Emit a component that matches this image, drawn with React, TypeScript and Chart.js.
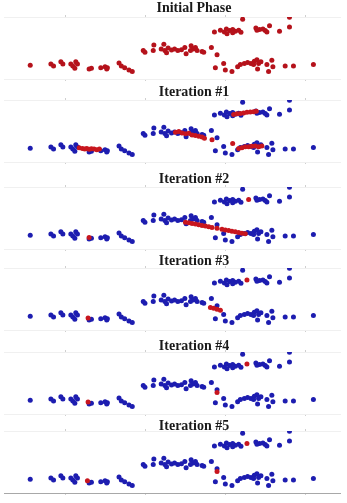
import React, { useEffect, useRef } from 'react';
import { Chart, registerables } from 'chart.js';

Chart.register(...registerables);

type Pt = [number, number];

// ---------- data ----------
const panelTitles = ['Initial Phase', 'Iteration #1', 'Iteration #2', 'Iteration #3', 'Iteration #4', 'Iteration #5'];
const xTicks = [10, 20, 30, 40];
const xRange = [2.25, 44.375];
const yRange = [0, 8];

// original samples (blue points)
const samples: Pt[] = [
  // upper-right group
  [32.17, 7.71], [38.04, 7.96], [38.04, 6.71], [28.63, 6.08], [29.38, 6.29], [29.88, 6.08], [30.13, 6.46],
  [30.54, 6.25], [30.92, 6.38], [31.25, 6.17], [31.67, 6.29], [30.21, 5.83], [31.96, 6.04], [30.92, 5.96],
  [33.83, 6.58], [34.29, 6.38], [34.71, 6.46], [35.0, 6.25], [35.54, 6.88], [35.21, 6.08], [36.79, 6.17], [33.96, 6.29],
  // middle group
  [19.71, 3.67], [19.92, 3.46], [21.04, 4.38], [20.96, 3.67], [22.29, 4.5], [21.96, 3.88], [22.42, 3.67],
  [22.83, 4.0], [23.25, 3.75], [23.63, 3.88], [24.04, 3.67], [24.5, 3.79], [24.92, 4.08], [25.08, 3.25],
  [25.71, 4.29], [25.96, 3.88], [26.25, 4.08], [26.46, 3.67], [27.08, 3.54], [27.29, 3.46], [28.25, 4.08],
  [28.96, 3.13], [22.63, 3.38], [25.63, 3.67],
  // lower-left group
  [5.54, 1.79], [8.13, 1.92], [8.46, 1.67], [9.38, 2.21], [9.63, 1.92], [10.63, 1.92], [10.88, 1.67],
  [11.13, 1.38], [11.25, 2.21], [11.46, 1.92], [12.92, 1.29], [13.21, 1.38], [14.38, 1.46], [14.92, 1.58],
  [15.21, 1.46], [16.67, 2.08], [16.96, 1.67], [17.38, 1.46], [17.92, 1.17], [18.33, 0.96], [15.13, 1.29],
  // lower-right group
  [28.75, 1.46], [29.79, 2.0], [30.0, 1.17], [30.83, 0.96], [31.54, 1.58], [31.88, 1.88], [32.38, 2.0],
  [32.79, 2.13], [33.21, 2.0], [33.63, 2.29], [33.96, 2.5], [34.17, 2.0], [34.46, 2.21], [34.04, 1.29],
  [35.21, 1.88], [35.42, 0.96], [35.83, 2.42], [35.96, 1.58], [37.5, 1.67], [38.54, 1.67], [41.04, 1.88], [33.54, 1.88],
];

// shifted points (red) after each iteration
const shiftedIter1: Pt[] = [
  [11.67, 1.83], [12.08, 1.75], [12.38, 1.67], [12.63, 1.75], [12.92, 1.63], [13.21, 1.71], [13.54, 1.67], [13.88, 1.58], [14.21, 1.67],
  [23.75, 3.83], [24.17, 3.92], [24.58, 3.75], [25.0, 3.63], [25.42, 3.71], [25.83, 3.5], [26.25, 3.42], [26.67, 3.33],
  [27.08, 3.21], [27.38, 3.08], [28.33, 2.88],
  [31.04, 6.13], [31.46, 6.21], [31.88, 6.25], [32.29, 6.33], [32.71, 6.42], [33.13, 6.46], [33.54, 6.5], [33.88, 6.54],
  [30.92, 2.38], [31.67, 1.75], [32.08, 1.83], [32.5, 1.96], [32.92, 1.96], [33.33, 2.04], [33.75, 2.08], [34.17, 1.96], [34.58, 2.08],
];
const shiftedIter2: Pt[] = [
  [12.92, 1.5], [32.92, 6.38],
  [25.0, 3.46], [25.42, 3.38], [25.83, 3.29], [26.25, 3.21], [26.67, 3.13], [27.08, 3.04], [27.5, 2.96], [27.92, 2.88],
  [28.33, 2.79], [28.96, 2.67], [29.58, 2.54], [30.0, 2.46], [30.42, 2.38], [30.83, 2.29], [31.25, 2.21], [31.67, 2.13],
  [32.08, 2.04], [32.5, 1.96],
];
const shiftedIter3: Pt[] = [[12.79, 1.56], [32.71, 6.44], [28.13, 2.9], [28.54, 2.81], [28.96, 2.69], [29.38, 2.56]];
const shiftedIter4: Pt[] = [[12.79, 1.56], [32.71, 6.44], [28.96, 2.77]];
const shiftedIter5: Pt[] = [[12.71, 1.58], [32.71, 6.38], [28.96, 2.79]];

const shiftedSeries: Pt[][] = [samples, shiftedIter1, shiftedIter2, shiftedIter3, shiftedIter4, shiftedIter5];

// ---------- layout ----------
const plotTops = [17, 100, 187, 268, 352, 431];
const titleGaps = [9, 8, 8, 7, 6, 5];
const CANVAS_W = 385;

function Panel({ idx }: { idx: number }) {
  const ref = useRef<HTMLCanvasElement>(null);
  const gap = titleGaps[idx];
  const padBottom = gap - 9;
  const top = plotTops[idx] - 7 - gap;
  const height = 82 + padBottom;

  useEffect(() => {
    if (!ref.current) return;
    const toPts = (a: Pt[]) => a.map(([x, y]) => ({ x, y }));
    const datasets: any[] = [
      {
        label: 'shifted',
        data: toPts(shiftedSeries[idx]),
        backgroundColor: idx === 0 ? '#b5121b' : '#c8161e',
        borderWidth: 0,
        pointRadius: 2.5,
        order: 0,
      },
    ];
    if (idx > 0) {
      datasets.push({
        label: 'samples',
        data: toPts(samples),
        backgroundColor: '#1d1db0',
        borderWidth: 0,
        pointRadius: 2.5,
        order: 1,
      });
    }
    const axisX = (position: string, borderColor: string) => ({
      type: 'linear',
      position,
      min: xRange[0],
      max: xRange[1],
      afterBuildTicks: (s: any) => {
        s.ticks = xTicks.map((v) => ({ value: v }));
      },
      ticks: { display: false },
      grid: { drawOnChartArea: false, drawTicks: true, tickLength: 2, color: '#cfcfcf' },
      border: { display: true, color: borderColor, width: 1 },
    });
    const chart = new Chart(ref.current, {
      type: 'scatter',
      data: { datasets },
      options: {
        responsive: false,
        devicePixelRatio: 1,
        animation: false,
        events: [],
        layout: { padding: { left: 3, right: 0, top: 0, bottom: 0 } },
        plugins: {
          legend: { display: false },
          tooltip: { enabled: false },
          title: {
            display: true,
            text: panelTitles[idx],
            color: '#1a1a1a',
            font: { family: "'Liberation Serif', 'Times New Roman', serif", size: 14, weight: 'bold', lineHeight: 1 },
            padding: { top: 0, bottom: padBottom },
          },
        },
        scales: {
          x: axisX('bottom', idx === 5 ? '#a8a8a8' : '#f0f0f0'),
          x2: axisX('top', '#f0f0f0'),
          y: {
            type: 'linear',
            position: 'right',
            min: yRange[0],
            max: yRange[1],
            ticks: { display: false },
            grid: { display: false },
            border: { display: false },
            afterFit: (s: any) => {
              s.width = 45;
            },
          },
        },
      } as any,
    });
    return () => chart.destroy();
  }, [idx]);

  return (
    <canvas
      ref={ref}
      width={CANVAS_W}
      height={height}
      style={{ position: 'absolute', left: 0, top, width: CANVAS_W, height, display: 'block' }}
    />
  );
}

export default function App() {
  return (
    <div
      style={{
        position: 'fixed',
        left: 0,
        top: 0,
        width: 347,
        height: 503,
        overflow: 'hidden',
        background: '#ffffff',
      }}
    >
      {panelTitles.map((_, i) => (
        <Panel key={i} idx={i} />
      ))}
    </div>
  );
}
